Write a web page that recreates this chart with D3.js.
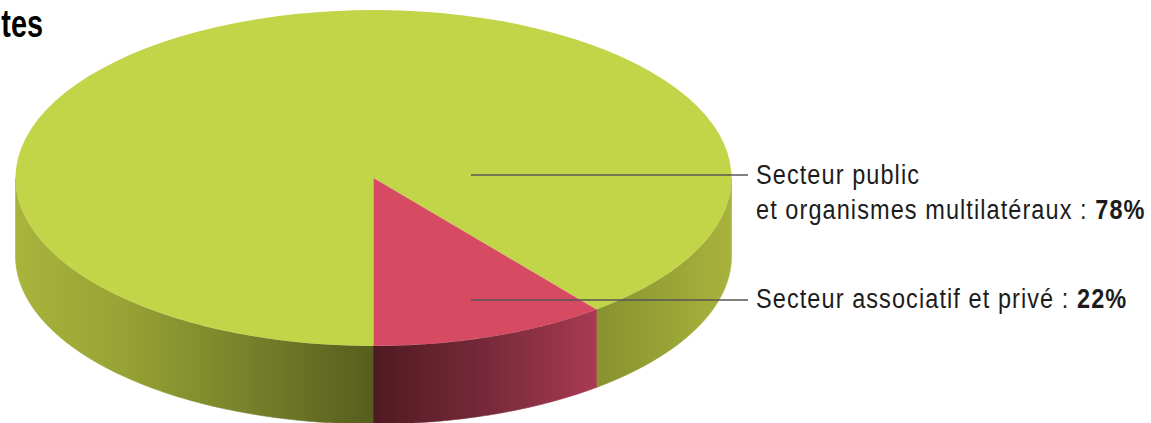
<!DOCTYPE html>
<html>
<head>
<meta charset="utf-8">
<script src="https://cdn.jsdelivr.net/npm/d3@7"></script>
<style>
html, body { margin: 0; padding: 0; background: #fff; overflow: hidden; }
svg { display: block; }
text { font-family: "Liberation Sans", sans-serif; fill: #1c1c1c; }
</style>
</head>
<body>
<div id="chart"></div>
<script>
// Setting height and width (should match the window)
var w = 1151;
var h = 423;

// Values printed on the labels
var categories = ['Secteur public', 'Secteur associatif et privé'];
var labelled = [78, 22];
// Wedge sizes as drawn in the picture (the drawn wedge is narrower than its 22% label)
var drawnShares = [89.3, 10.7];
var topColors = ['#c2d448', '#d64a62'];

// Ellipse of the top face and thickness of the disc
var cx = 373.5, cy = 178, rx = 358, ry = 168, depth = 78;

var svg = d3.select('#chart').append('svg')
	.attr('width', w)
	.attr('height', h);

// Horizontal shading of the side wall, one gradient per colour
var defs = svg.append('defs');
function addGradient(id, x1, x2, stops) {
	var g = defs.append('linearGradient')
		.attr('id', id)
		.attr('gradientUnits', 'userSpaceOnUse')
		.attr('x1', x1).attr('x2', x2)
		.attr('y1', 0).attr('y2', 0);
	stops.forEach(function(s) {
		g.append('stop').attr('offset', s[0]).attr('stop-color', s[1]);
	});
}
addGradient('wallLeft', cx - rx, cx, [[0, '#a9b43c'], [0.3, '#97a334'], [0.6, '#7b862c'], [1, '#565e1e']]);
addGradient('wallRight', 596, cx + rx, [[0, '#879230'], [1, '#a8b33c']]);
addGradient('wallRed', cx, 596, [[0, '#501a22'], [0.5, '#76293a'], [1, '#a83a52']]);

// The pie starts at the bottom of the disc and runs clockwise
var pie = d3.pie()
	.sort(null)
	.startAngle(Math.PI)
	.endAngle(3 * Math.PI);
var arcs = pie(drawnShares);

var arc = d3.arc().innerRadius(0).outerRadius(rx);

// Side wall: band under the visible front rim, between two pie angles
var wall = d3.area()
	.x(function(a) { return cx + rx * Math.sin(a); })
	.y0(function(a) { return cy - ry * Math.cos(a); })
	.y1(function(a) { return cy - ry * Math.cos(a) + depth; });

function angles(a0, a1) {
	var n = 120, out = [];
	for (var i = 0; i <= n; i++) out.push(a0 + (a1 - a0) * i / n);
	return out;
}

// Red wedge angles brought back to 0..2pi for the wall
var redA0 = arcs[1].startAngle % (2 * Math.PI);
var redA1 = redA0 + (arcs[1].endAngle - arcs[1].startAngle);

var walls = [
	{ from: Math.PI / 2, to: redA0, fill: 'url(#wallRight)' },
	{ from: redA1, to: 1.5 * Math.PI, fill: 'url(#wallLeft)' },
	{ from: redA0, to: redA1, fill: 'url(#wallRed)' }
];
svg.selectAll('path.wall')
	.data(walls)
  .enter().append('path')
	.attr('class', 'wall')
	.attr('d', function(d) { return wall(angles(d.from, d.to)); })
	.attr('fill', function(d) { return d.fill; })
	.attr('stroke', function(d) { return d.fill; })
	.attr('stroke-width', 0.6);

// Top face
svg.append('g')
	.attr('transform', 'translate(' + cx + ',' + cy + ') scale(1,' + (ry / rx) + ')')
  .selectAll('path')
	.data(arcs)
  .enter().append('path')
	.attr('d', arc)
	.attr('fill', function(d, i) { return topColors[i]; });

// Leader lines
var leaderY = [175, 300];
svg.selectAll('line.leader')
	.data(leaderY)
  .enter().append('line')
	.attr('class', 'leader')
	.attr('x1', 471).attr('x2', 748)
	.attr('y1', function(d) { return d; })
	.attr('y2', function(d) { return d; })
	.attr('stroke', '#555')
	.attr('stroke-opacity', 0.75)
	.attr('stroke-width', 2);

// Labels: no narrow font here, so squeeze the glyphs and open the spacing
function label(y, txt, pct) {
	var t = svg.append('text')
		.attr('transform', 'translate(756,' + y + ') scale(0.87,1)')
		.attr('font-size', 27)
		.attr('letter-spacing', 1.25)
		.text(txt);
	if (pct !== undefined) {
		t.append('tspan').attr('font-weight', 'bold').text(pct + '%');
	}
}
label(184, categories[0]);
label(219, 'et organismes multilatéraux : ', labelled[0]);
label(308, categories[1] + ' : ', labelled[1]);

// Remainder of the title cut by the left edge
svg.append('text')
	.attr('transform', 'translate(43,37) scale(0.76,1)')
	.attr('text-anchor', 'end')
	.attr('font-size', 38)
	.attr('font-weight', 'bold')
	.style('fill', '#000')
	.text('tes');
</script>
</body>
</html>
